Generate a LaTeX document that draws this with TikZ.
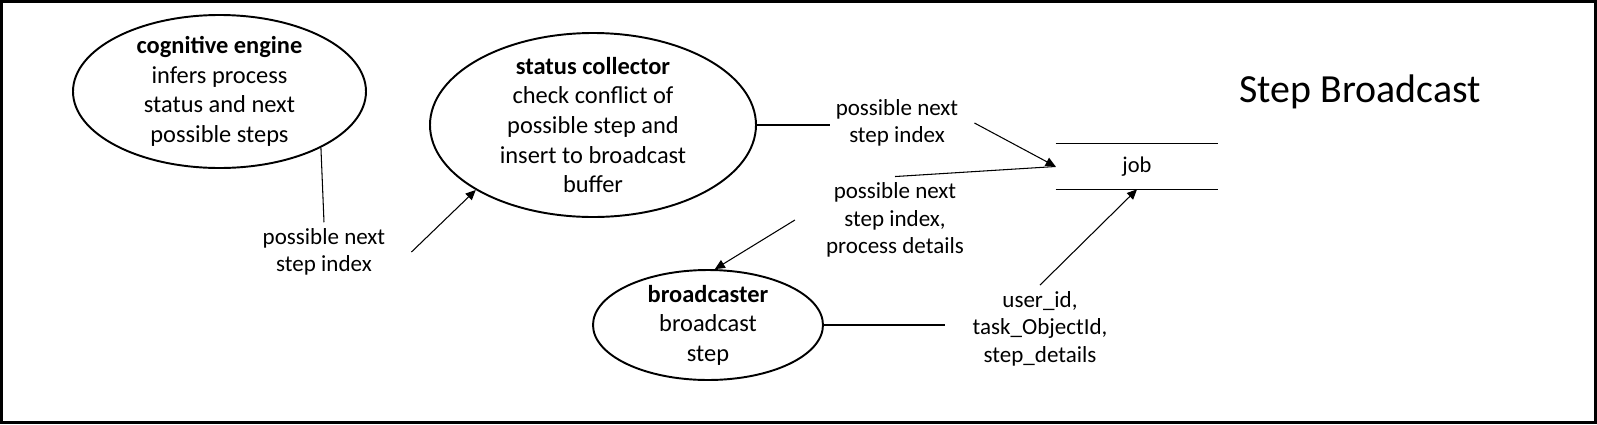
\documentclass[tikz,border=0pt]{standalone}
\usepackage{fontspec}
\setmainfont{Carlito}
\usepackage{tikz}
\usetikzlibrary{shapes, arrows.meta, positioning}
\tikzstyle{process} = [ellipse, draw=black, line width=1.1pt, align=center, inner sep=0pt, inner ysep=-4pt, font=\fontsize{13.9}{16.8}\selectfont]
\tikzstyle{flowlabel} = [align=center, font=\fontsize{13.1}{15.6}\selectfont]
\tikzstyle{datastore} = [minimum width=3.24cm, minimum height=0.9cm, font=\fontsize{12.8}{15}\selectfont]
\tikzstyle{flow} = [line width=0.6pt]
\tikzstyle{arrow} = [line width=0.6pt, -{Triangle[length=0.2cm, width=0.18cm]}]

\begin{document}
\begin{tikzpicture}[node distance=3cm]
\useasboundingbox (0,0) rectangle (31.94,-8.48);
\draw [line width=1.7pt] (0.03,-0.03) rectangle (31.91,-8.45);
\node (cog) [process, minimum width=5.86cm, minimum height=3.06cm] at (4.39,-1.83) {\textbf{cognitive engine}\\infers process\\status and next\\possible steps};
\node (status) [process, minimum width=6.52cm, minimum height=3.68cm, right of=cog, xshift=4.47cm, yshift=-0.67cm] {\textbf{status collector}\\check conflict of\\possible step and\\insert to broadcast\\buffer};
\node (nextidx) [flowlabel, below of=cog, xshift=2.09cm, yshift=-0.21cm] {possible next\\step index};
\node (stepidx) [flowlabel, right of=status, xshift=3.08cm, yshift=0.04cm] {possible next\\step index};
\node (job) [datastore, right of=stepidx, xshift=1.8cm, yshift=-0.87cm] {job};
\node (details) [flowlabel, below of=stepidx, xshift=-0.04cm, yshift=1.06cm] {possible next\\step index,\\process details};
\node (bc) [process, minimum width=4.6cm, minimum height=2.2cm, below of=status, xshift=2.3cm, yshift=-1cm] {\textbf{broadcaster}\\broadcast\\step};
\node (ids) [flowlabel, right of=bc, xshift=3.64cm, yshift=-0.07cm] {user\_id,\\task\_ObjectId,\\step\_details};
\node (title) [font=\fontsize{22.7}{27}\selectfont, right of=job, xshift=1.46cm, yshift=1.49cm] {Step Broadcast};
\draw [line width=0.8pt] (job.north west) -- (job.north east);
\draw [line width=0.8pt] (job.south west) -- (job.south east);
\draw [flow] (cog.-29) -- (nextidx.north);
\draw [arrow] ([xshift=0.4cm]nextidx.east) -- (status.209);
\draw [flow] (status.east) -- (status.east -| stepidx.west);
\draw [arrow] ([xshift=0.2cm]stepidx.east) -- (job.west);
\draw [flow] (job.west) -- (details.north);
\draw [arrow] ([xshift=-0.5cm]details.west) -- (bc.83);
\draw [flow] (bc.east) -- ([xshift=-0.43cm]bc.east -| ids.west);
\draw [arrow] (ids.north) -- (job.south);
\end{tikzpicture}
\end{document}
